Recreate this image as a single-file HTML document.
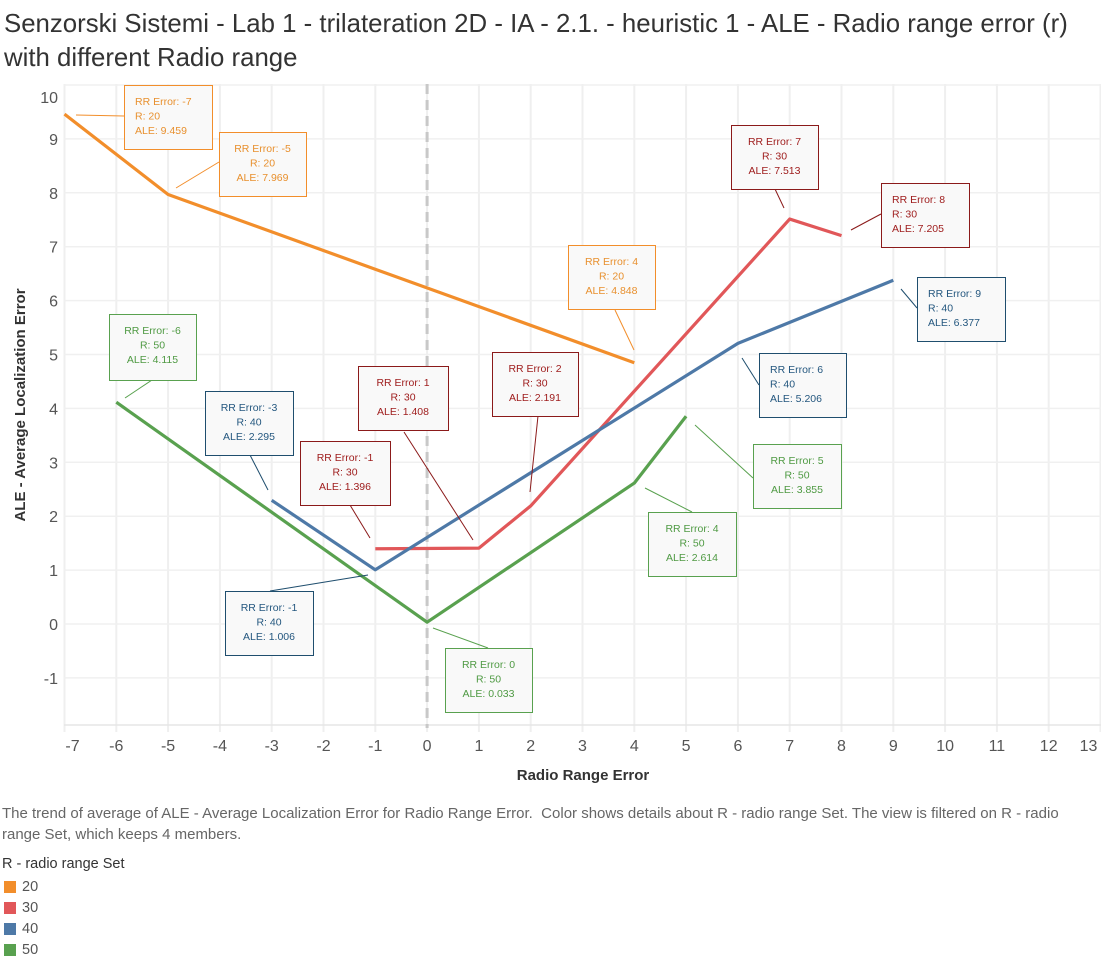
<!DOCTYPE html>
<html><head><meta charset="utf-8"><style>
body{margin:0;background:#fff;width:1101px;height:959px;overflow:hidden;font-family:"Liberation Sans",sans-serif;}
#title{position:absolute;left:4px;top:7px;font-size:25.8px;line-height:34px;color:#333;white-space:nowrap;}
#cap{position:absolute;left:2px;top:803px;font-size:15px;line-height:21px;color:#666;width:1099px;}
#legend{position:absolute;left:2px;top:856px;font-size:14.5px;color:#333;}
.li{display:flex;align-items:center;height:21px;color:#555}
.sw{width:12px;height:12px;margin:0 6px 0 2px}
</style></head><body>
<div id="title">Senzorski Sistemi - Lab 1 - trilateration 2D - IA - 2.1. - heuristic 1 - ALE - Radio range error (r)<br>with different Radio range</div>
<svg id="chart" width="1101" height="800" style="position:absolute;left:0;top:0"></svg>
<div id="cap">The trend of average of ALE - Average Localization Error for Radio Range Error.&nbsp; Color shows details about R - radio range Set. The view is filtered on R - radio range Set, which keeps 4 members.</div>
<div id="legend">
<div style="height:20px">R - radio range Set</div>
<div class="li"><div class="sw" style="background:#f28e2b"></div>20</div>
<div class="li"><div class="sw" style="background:#e15759"></div>30</div>
<div class="li"><div class="sw" style="background:#4e79a7"></div>40</div>
<div class="li"><div class="sw" style="background:#59a14f"></div>50</div>
</div>
<script>
const xTicks=[-7,-6,-5,-4,-3,-2,-1,0,1,2,3,4,5,6,7,8,9,10,11,12,13];
const yTicks=[-1,0,1,2,3,4,5,6,7,8,9,10];
const seriesNames=["20","30","40","50"];
const x20=[-7,-5,4], y20=[9.459,7.969,4.848];
const x30=[-1,1,2,7,8], y30=[1.396,1.408,2.191,7.513,7.205];
const x40=[-3,-1,6,9], y40=[2.295,1.006,5.206,6.377];
const x50=[-6,0,4,5], y50=[4.115,0.033,2.614,3.855];
const NS="http://www.w3.org/2000/svg";
const svg=document.getElementById('chart');
const X=v=>64.5+(v+7)*51.8;
const Y=v=>624-v*53.9;
function el(t,a,p){const e=document.createElementNS(NS,t);for(const k in a)e.setAttribute(k,a[k]);(p||svg).appendChild(e);return e;}
xTicks.forEach(t=>{const g=el('line',{x1:X(t),x2:X(t),y1:84,y2:732,stroke:'#efefef','stroke-width':2});


const tx=el('text',{x:t===-7?X(t)+8:(t===13?X(t)-12:X(t)),y:751,'text-anchor':'middle','font-size':16,fill:'#555'});tx.textContent=t;

});
yTicks.forEach(t=>{const g=el('line',{x1:64,x2:1101,y1:Y(t),y2:Y(t),stroke:'#f0f0f0','stroke-width':1.5});


const ty=el('text',{x:58,y:(t===10?Y(t)+18:Y(t)+6),'text-anchor':'end','font-size':16,fill:'#555'});ty.textContent=t;

});
const ax=el('line',{x1:64,x2:1101,y1:725,y2:725,stroke:'#e6e6e6','stroke-width':1.5});


const zl=el('line',{x1:X(0),x2:X(0),y1:84,y2:728,stroke:'#c8c8c8','stroke-width':3,'stroke-dasharray':'10,6'});


const xt=el('text',{x:583,y:780,'text-anchor':'middle','font-size':15,'font-weight':'bold',fill:'#333'});xt.textContent='Radio Range Error';


const yt=el('text',{x:0,y:0,'text-anchor':'middle','font-size':15,'font-weight':'bold',fill:'#333',transform:'translate(25,405) rotate(-90)'});yt.textContent='ALE - Average Localization Error';


const colors={"20":"#f28e2b","30":"#e15759","40":"#4e79a7","50":"#59a14f"};
const txtC={"20":"#e8902e","30":"#9e1b1b","40":"#24577f","50":"#4f9a43"};
const brdC={"20":"#f28e2b","30":"#8b1a1a","40":"#1f4e6e","50":"#59a14f"};
const data={"20":[x20,y20],"30":[x30,y30],"40":[x40,y40],"50":[x50,y50]};
seriesNames.forEach(s=>{const [xs,ys]=data[s];
const p=el('polyline',{points:xs.map((v,i)=>X(v)+','+Y(ys[i])).join(' '),fill:'none',stroke:colors[s],'stroke-width':3.2,'stroke-linejoin':'round'});

});
const boxes=[
["20",0,124,85,88,64,124,116,76,115,'l'],["20",1,219,132,87,64,219,162,176,188,'c'],["20",2,568,245,87,64,615,310,634,350,'c'],
["30",0,300,441,90,64,350,505,370,538,'c'],["30",1,358,366,90,64,404,432,473,540,'c'],["30",2,492,352,86,64,538,416,530,492,'c'],
["30",3,731,125,87,64,775,189,784,208,'c'],["30",4,881,183,88,64,881,214,851,230,'l'],
["40",0,205,391,88,64,250,455,268,490,'c'],["40",1,225,591,88,64,270,591,368,575,'c'],["40",2,759,353,87,64,759,385,742,358,'l'],["40",3,917,277,88,64,917,308,901,289,'l'],
["50",0,109,314,87,66,152,380,125,398,'c'],["50",1,445,648,87,64,488,648,433,628,'c'],["50",2,648,512,88,64,692,512,645,488,'c'],["50",3,753,444,88,64,753,478,695,425,'c']];
boxes.forEach(b=>{const [s,i,l,t,w,h,fx,fy,tx,ty,al]=b;const [xs,ys]=data[s];
const ln=el('line',{x1:fx,y1:fy,x2:tx,y2:ty,stroke:brdC[s],'stroke-width':1});


const r=el('rect',{x:l+.5,y:t+.5,width:w,height:h,fill:'#f9f9f9',stroke:brdC[s],'stroke-width':1});


const lines=['RR Error: '+xs[i],'R: '+s,'ALE: '+ys[i].toFixed(3)];
lines.forEach((txt,k)=>{const e=el('text',{x:al==='l'?l+11:l+w/2,y:t+20+k*14.5,'text-anchor':al==='l'?'start':'middle','font-size':10.5,fill:txtC[s]});e.textContent=txt;

});});
</script>
</body></html>
